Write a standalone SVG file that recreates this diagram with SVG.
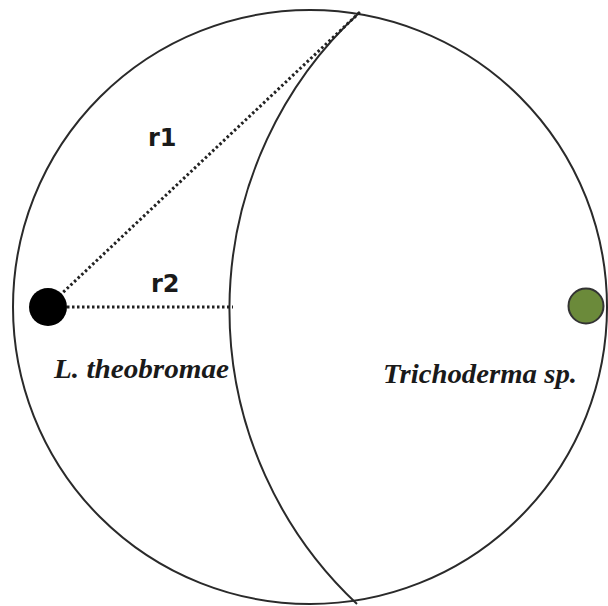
<svg xmlns="http://www.w3.org/2000/svg" width="608" height="606" viewBox="0 0 608 606">
<style>
.outline{fill:none;stroke:#2a2a2a;stroke-width:2}
.dot{fill:none;stroke:#222;stroke-width:3;stroke-dasharray:2.5 2.5}
.lbl{font-family:"DejaVu Sans",sans-serif;font-weight:bold;font-size:24px;fill:#1a1a1a}
.sp{font-family:"Liberation Serif",serif;font-style:italic;font-weight:bold;font-size:28px;fill:#1a1a1a}
</style>
<rect width="608" height="606" fill="#fff"/>
<g id="plate"><circle class="outline" cx="310" cy="307" r="297"/></g>
<g id="boundary"><path class="outline" d="M360,12 A404,404 0 0 0 357,604"/></g>
<g id="connectors">
<line class="dot" x1="56" y1="299" x2="360" y2="12"/>
<line class="dot" x1="62" y1="307" x2="233" y2="307"/>
</g>
<g id="pathogen"><circle cx="48" cy="307" r="19" fill="#000"/></g>
<g id="antagonist"><circle cx="586" cy="306" r="17.5" fill="#6b8a3a" stroke="#333" stroke-width="2"/></g>
<g id="labels">
<text class="lbl" x="148" y="146">r1</text>
<text class="lbl" x="151" y="292">r2</text>
<text class="sp" x="54" y="378" textLength="175" lengthAdjust="spacingAndGlyphs">L. theobromae</text>
<text class="sp" x="383" y="383" textLength="194" lengthAdjust="spacingAndGlyphs">Trichoderma sp.</text>
</g>
</svg>
